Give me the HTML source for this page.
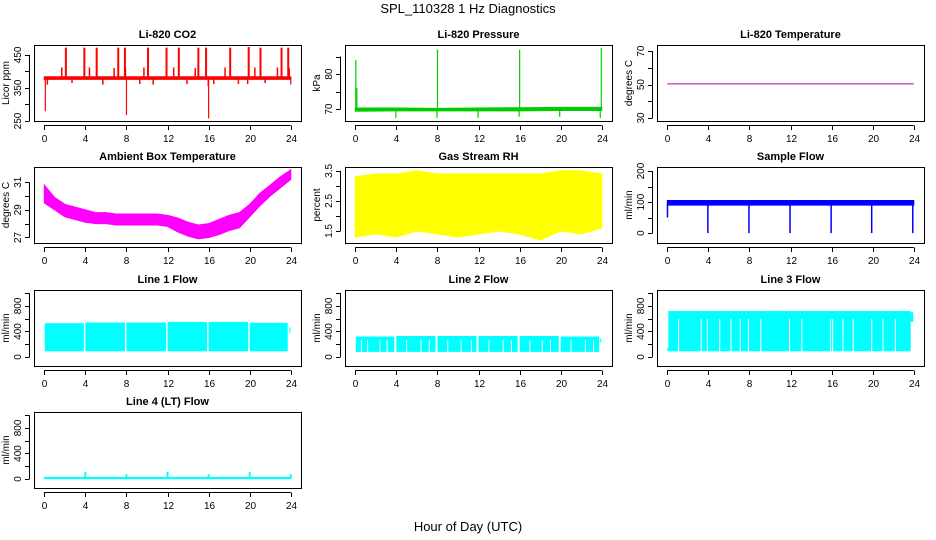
<!DOCTYPE html>
<html><head><meta charset="utf-8"><style>
html,body{margin:0;padding:0;background:#fff;}
svg{display:block;font-family:"Liberation Sans",sans-serif;}
</style></head><body>
<svg id="chart" width="936" height="540" viewBox="0 0 936 540">
<text x="468" y="13" font-size="13" text-anchor="middle">SPL_110328  1 Hz Diagnostics</text>
<text x="468" y="531" font-size="13" text-anchor="middle">Hour of Day (UTC)</text>
</svg>
<script>
// ---- data arrays ----
const xTicks = [0,4,8,12,16,20,24];
// CO2
const co2BandHours = [0,24];
const co2BandLo = [376,376];
const co2BandHi = [384,384];
const co2SpikeHours = [2.1,3.9,5.1,7.2,7.85,10.1,11.9,13.1,15.0,15.75,18.1,19.9,21.05,23.1,23.75];
const co2SpikeVals = [472,472,472,472,472,472,472,472,472,472,472,474,472,472,472];
const co2SmallHours = [1.7,4.4,6.8,7.9,9.7,12.6,14.7,17.6,20.5,22.7,23.85,0.3,2.7,5.7,9.3,10.6,13.9,16.5,18.9,19.8,21.5];
const co2SmallVals = [412,412,410,410,412,412,410,412,412,412,410,360,365,360,362,360,362,362,362,362,365];
const co2DipHours = [0.1,8.0,16.0,15.95,24.0];
const co2DipVals = [280,268,258,355,360];
// Pressure
const presBandHours = [0,4,8,12,16,20,24];
const presBandLo = [69.4,69.5,69.5,69.5,69.5,69.6,69.6];
const presBandHi = [70.3,70.3,70.2,70.3,70.4,70.5,70.5];
const presSpikeHours = [0.05,0.15,8.0,16.0,23.95];
const presSpikeVals = [84,76,87,87,87.5];
const presDipHours = [3.95,7.95,11.95,15.95,19.9,23.85];
const presDipVals = [67.5,67.5,67.5,67.8,67.8,67.5];
// Li-820 temperature
const tempHours = [0,24];
const tempVals = [50.4,50.4];
// Ambient box temp (hourly)
const ambHours = [0,1,2,3,4,5,6,7,8,9,10,11,12,13,14,15,16,17,18,19,20,21,22,23,24];
const ambLo = [29.5,29.0,28.5,28.3,28.1,28.0,28.0,27.9,27.9,27.9,27.9,27.9,27.8,27.4,27.1,26.9,27.0,27.2,27.5,27.7,28.5,29.3,30.0,30.6,31.2];
const ambHi = [30.8,29.9,29.4,29.2,29.0,28.8,28.8,28.7,28.7,28.7,28.7,28.7,28.6,28.4,28.1,27.9,28.0,28.3,28.6,28.8,29.4,30.2,30.8,31.4,31.9];
// Gas stream RH (2h bins)
const rhHours = [0,2,4,6,8,10,12,14,16,18,20,22,24];
const rhLo = [1.3,1.4,1.3,1.5,1.4,1.3,1.4,1.5,1.4,1.2,1.5,1.4,1.6];
const rhHi = [3.3,3.4,3.4,3.5,3.4,3.4,3.4,3.4,3.4,3.4,3.5,3.5,3.4];
// Sample flow
const sfBandLo = [90,90];
const sfBandHi = [105,105];
const sfDipHours = [3.95,7.95,11.95,15.95,19.9,23.9,0.02];
const sfDipVals = [0,0,0,0,0,0,50];
// Line flows: segments
const l1SegStart = [0.05,4.0,8.0,12.0,16.0,20.0,23.85];
const l1SegEnd = [3.85,7.85,11.85,15.85,19.85,23.7,23.95];
const l1Lo = [90,90,90,90,90,90,380];
const l1Hi = [530,540,540,550,550,535,470];
const l2SegStart = [0.05,4.0,8.0,12.0,16.0,20.0,23.85];
const l2SegEnd = [3.8,7.8,11.8,15.8,19.8,23.75,23.95];
const l2Lo = [80,80,80,80,80,80,230];
const l2Hi = [320,330,330,330,330,320,290];
const l2GapHours = [0.6,1.2,2.4,3.1,5.0,6.4,7.2,9.0,10.3,11.3,13.0,14.4,15.2,17.0,18.2,19.0,21.0,22.4,23.2];
const l3SegStart = [0.0,0.1,23.7];
const l3SegEnd = [0.1,23.7,23.95];
const l3Lo = [90,90,550];
const l3Hi = [150,720,700];
const l3GapHours = [1.1,3.3,3.9,5.1,6.2,7.1,7.9,9.1,11.9,13.1,15.9,16.1,17.1,18.1,19.9,21.0,22.2];
// Line 4
const l4BandLo = [5,5];
const l4BandHi = [25,25];
const l4SpikeHours = [4.0,8.0,12.0,16.0,20.0,24.0];
const l4SpikeVals = [110,75,110,75,110,75];

// ---- layout ----
const NS='http://www.w3.org/2000/svg';
const svg=document.getElementById('chart');
const colL=[34,345,657], rowT=[45,167,290,412], W=267, H=76;
function mk(tag,attrs,parent){const e=document.createElementNS(NS,tag);for(const k in attrs)e.setAttribute(k,attrs[k]);(parent||svg).appendChild(e);return e;}

function panel(col,row,title,ylabel,ymin,ymax,ticks,labels,slug){
  const L=colL[col],T=rowT[row];
  const g=mk('g',{});
  
  
  const p={L,T,g,
    x:h=>L+10.3+h*(246.5/24),
    y:v=>T+H-(v-ymin)/(ymax-ymin)*H};
  const t=mk('text',{x:L+W/2,y:T-7,'font-size':11,'font-weight':'bold','text-anchor':'middle'},g);
  t.textContent=title;
  
  
  p.marks=mk('g',{},g);
  const box=mk('rect',{x:L+0.5,y:T+0.5,width:W,height:H,fill:'none',stroke:'#000','stroke-width':1},g);
  
  
  const xa=mk('g',{},g);
  
  
  mk('line',{x1:p.x(0),x2:p.x(24),y1:T+H+4.5,y2:T+H+4.5,stroke:'#000'},xa);
  xTicks.forEach(v=>{const xx=Math.round(p.x(v))+0.5;
    mk('line',{x1:xx,x2:xx,y1:T+H+4.5,y2:T+H+9,stroke:'#000'},xa);
    const tl=mk('text',{x:xx,y:T+H+21,'font-size':10,'text-anchor':'middle'},xa);tl.textContent=v;
    
    
  });
  const ya=mk('g',{},g);
  
  
  mk('line',{x1:L-4.5,x2:L-4.5,y1:p.y(ticks[0]),y2:p.y(ticks[ticks.length-1]),stroke:'#000'},ya);
  ticks.forEach(v=>{const yy=Math.round(p.y(v))+0.5;
    mk('line',{x1:L-9,x2:L-4.5,y1:yy,y2:yy,stroke:'#000'},ya);});
  labels.forEach(v=>{const yy=p.y(v);
    const tl=mk('text',{x:0,y:0,'font-size':10,'text-anchor':'middle',transform:`translate(${L-13},${yy}) rotate(-90)`},ya);tl.textContent=v;
    
    
  });
  const yl=mk('text',{x:0,y:0,'font-size':10,'text-anchor':'middle',transform:`translate(${L-25},${T+H/2}) rotate(-90)`},g);
  yl.textContent=ylabel;
  
  
  return p;
}
function band(p,hours,lo,hi,color){ // filled envelope polygon
  const pts=[];
  hours.forEach((h,i)=>pts.push(p.x(h)+','+p.y(hi[i])));
  for(let i=hours.length-1;i>=0;i--)pts.push(p.x(hours[i])+','+p.y(lo[i]));
  const r=mk('polygon',{points:pts.join(' '),fill:color,stroke:color,'stroke-width':1},p.marks);
  
  
}
function spikes(p,hours,vals,base,color,w){
  hours.forEach((h,i)=>{
    const l=mk('line',{x1:p.x(h),x2:p.x(h),y1:p.y(base),y2:p.y(vals[i]),stroke:color,'stroke-width':w||1.5},p.marks);
    
    
  });
}
function segs(p,st,en,lo,hi,color){
  st.forEach((s,i)=>{
    const yt=p.y(hi[i]),yb=p.y(lo[i]);
    const r=mk('rect',{x:p.x(s),y:yt,width:p.x(en[i])-p.x(s),height:yb-yt,fill:color},p.marks);
    
    
  });
}
function gaps(p,hours,lo,hi){
  hours.forEach(h=>{
    const l=mk('line',{x1:p.x(h),x2:p.x(h),y1:p.y(lo),y2:p.y(hi),stroke:'#fff','stroke-width':1},p.marks);
    
    
  });
}
const lineTicks=[0,200,400,600,800,1000], lineLabels=[0,400,800];

// CO2
let p=panel(0,0,'Li-820 CO2','Licor ppm',250,480,[250,300,350,400,450],[250,350,450],'co2');
band(p,co2BandHours,co2BandLo,co2BandHi,'#f00');
spikes(p,co2SpikeHours,co2SpikeVals,380,'#f00',2);
spikes(p,co2SmallHours,co2SmallVals,380,'#f00',1.5);
spikes(p,co2DipHours,co2DipVals,380,'#f00',1.2);
// Pressure
p=panel(1,0,'Li-820 Pressure','kPa',66.6,88.3,[70,75,80,85],[70,80],'pressure');
band(p,presBandHours,presBandLo,presBandHi,'#00cd00');
spikes(p,presSpikeHours,presSpikeVals,70,'#00cd00',1.2);
spikes(p,presDipHours,presDipVals,70,'#00cd00',1.2);
// Temp
p=panel(2,0,'Li-820 Temperature','degrees C',28.2,73.7,[30,40,50,60,70],[30,50,70],'li820-temp');
{const l=mk('line',{x1:p.x(tempHours[0]),x2:p.x(tempHours[1]),y1:p.y(tempVals[0]),y2:p.y(tempVals[1]),stroke:'#b000b0','stroke-width':1},p.marks);

}
// Ambient
p=panel(0,1,'Ambient Box Temperature','degrees C',26.6,32.1,[27,28,29,30,31],[27,29,31],'ambient');
band(p,ambHours,ambLo,ambHi,'#f0f');
// RH
p=panel(1,1,'Gas Stream RH','percent',1.1,3.63,[1.5,2,2.5,3,3.5],[1.5,2.5,3.5],'rh');
band(p,rhHours,rhLo,rhHi,'#ff0');
// Sample flow
p=panel(2,1,'Sample Flow','ml/min',-32,213,[0,50,100,150,200],[0,100,200],'sample-flow');
band(p,[0,24],sfBandLo,sfBandHi,'#00f');
spikes(p,sfDipHours,sfDipVals,95,'#00f',1.5);
// Line 1
p=panel(0,2,'Line 1 Flow','ml/min',-141,1050,lineTicks,lineLabels,'line1');
segs(p,l1SegStart,l1SegEnd,l1Lo,l1Hi,'#0ff');
// Line 2
p=panel(1,2,'Line 2 Flow','ml/min',-141,1050,lineTicks,lineLabels,'line2');
segs(p,l2SegStart,l2SegEnd,l2Lo,l2Hi,'#0ff');
gaps(p,l2GapHours,80,260);
// Line 3
p=panel(2,2,'Line 3 Flow','ml/min',-141,1050,lineTicks,lineLabels,'line3');
segs(p,l3SegStart,l3SegEnd,l3Lo,l3Hi,'#0ff');
gaps(p,l3GapHours,90,600);
// Line 4
p=panel(0,3,'Line 4 (LT) Flow','ml/min',-141,1050,lineTicks,lineLabels,'line4');
band(p,[0,24],l4BandLo,l4BandHi,'#0ff');
spikes(p,l4SpikeHours,l4SpikeVals,15,'#0ff',2);
</script>
</body></html>
